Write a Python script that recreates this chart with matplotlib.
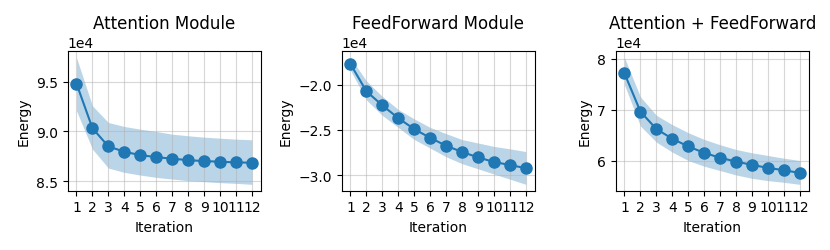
import numpy as np
import matplotlib
matplotlib.use("Agg")
import matplotlib.pyplot as plt

iterations = list(range(1, 13))
titles = ["Attention Module", "FeedForward Module", "Attention + FeedForward"]

# values in units of 1e4
attn_mean = [9.48, 9.033, 8.85, 8.797, 8.763, 8.743, 8.727, 8.713, 8.703, 8.697, 8.690, 8.687]
attn_upper = [9.74, 9.257, 9.09, 9.05, 9.023, 9.0, 8.973, 8.957, 8.943, 8.933, 8.923, 8.917]
attn_lower = [9.207, 8.823, 8.633, 8.59, 8.563, 8.54, 8.523, 8.507, 8.497, 8.487, 8.48, 8.47]

ff_mean = [-1.771, -2.073, -2.229, -2.370, -2.492, -2.588, -2.676, -2.744, -2.805, -2.855, -2.889, -2.924]
ff_upper = [-1.70, -1.958, -2.13, -2.275, -2.378, -2.473, -2.542, -2.607, -2.645, -2.683, -2.71, -2.74]
ff_lower = [-1.84, -2.168, -2.34, -2.473, -2.607, -2.702, -2.798, -2.874, -2.931, -2.989, -3.046, -3.103]

both_mean = [7.716, 6.964, 6.62, 6.429, 6.277, 6.152, 6.053, 5.98, 5.914, 5.855, 5.809, 5.756]
both_upper = [8.026, 7.254, 6.891, 6.706, 6.548, 6.416, 6.31, 6.218, 6.152, 6.099, 6.046, 6.0]
both_lower = [7.49, 6.68, 6.363, 6.165, 6.0, 5.888, 5.802, 5.716, 5.65, 5.604, 5.571, 5.531]

series = [
    (attn_mean, attn_upper, attn_lower),
    (ff_mean, ff_upper, ff_lower),
    (both_mean, both_upper, both_lower),
]

fig, axes = plt.subplots(1, 3, figsize=(8.3, 2.51), dpi=100)
fig.subplots_adjust(left=0.0816, right=0.9743, bottom=0.2363, top=0.7916, wspace=0.42)

for ax, title, (m, u, l) in zip(axes, titles, series):
    x = np.array(iterations)
    ax.fill_between(x, np.array(l) * 1e4, np.array(u) * 1e4, color="C0", alpha=0.3, linewidth=0)
    ax.plot(x, np.array(m) * 1e4, marker="o", markersize=8, linewidth=1.5, color="C0")
    ax.set_title(title, fontsize=12)
    ax.set_xlabel("Iteration")
    ax.set_ylabel("Energy")
    ax.set_xticks(iterations)
    ax.grid(True, alpha=0.5)
    ax.ticklabel_format(axis="y", style="sci", scilimits=(4, 4))

fig.savefig("out.png", dpi=100)
